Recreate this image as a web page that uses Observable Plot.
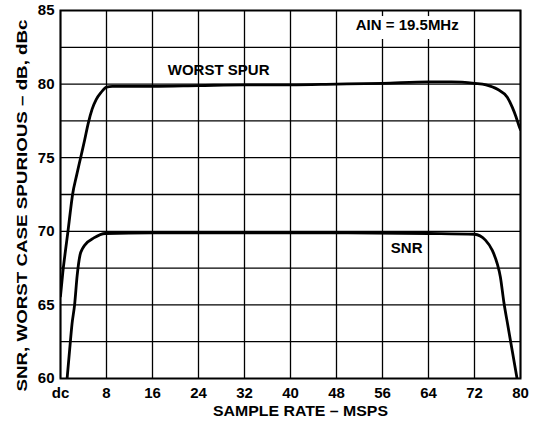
<!DOCTYPE html>
<html>
<head>
<meta charset="utf-8">
<script src="https://cdn.jsdelivr.net/npm/d3@7"></script>
<script src="https://cdn.jsdelivr.net/npm/@observablehq/plot@0.6"></script>
<style>
  html, body { margin: 0; padding: 0; background: white; }
</style>
</head>
<body>
<div id="chart"></div>
<script>
// Worst spur (dBc) vs sample rate (MSPS)
const spurX = [0, 0.4, 0.9, 1.3, 1.7, 2.1, 2.8, 3.5, 4.2, 4.8, 5.5, 6.2, 7.0, 8.0, 9, 16, 24, 32, 40, 48, 56, 64, 68, 72, 74, 76, 77.7, 78.6, 79.2, 79.7, 80];
const spurY = [65.6, 67.2, 68.8, 70.0, 71.3, 72.5, 73.8, 75.0, 76.2, 77.3, 78.3, 78.95, 79.4, 79.8, 79.85, 79.85, 79.9, 79.95, 79.95, 80.0, 80.05, 80.15, 80.15, 80.05, 79.95, 79.65, 79.1, 78.4, 77.8, 77.2, 76.9];
// SNR (dB) vs sample rate (MSPS)
const snrX = [1.15, 1.6, 2.0, 2.45, 2.9, 3.4, 3.8, 4.3, 5.8, 7.8, 16, 32, 48, 64, 72, 73.9, 75.1, 75.95, 76.5, 77.1, 77.8, 78.6, 79.4];
const snrY = [60, 62, 63.7, 65.0, 67.0, 68.4, 68.8, 69.1, 69.55, 69.85, 69.9, 69.9, 69.9, 69.85, 69.8, 69.4, 68.7, 67.8, 66.9, 65.2, 63.6, 61.8, 60.0];

const xTicks = [0, 8, 16, 24, 32, 40, 48, 56, 64, 72, 80];
const xTickLabels = ["dc", "8", "16", "24", "32", "40", "48", "56", "64", "72", "80"];
const yTicks = [60, 65, 70, 75, 80, 85];
const yGrid = [62.5, 65, 67.5, 70, 72.5, 75, 77.5, 80, 82.5];

const xLabel = "SAMPLE RATE – MSPS";
const yLabel = "SNR, WORST CASE SPURIOUS – dB, dBc";

const labels = [
  {x: 27.5, y: 80.92, text: "WORST SPUR"},
  {x: 60.2, y: 68.85, text: "SNR"},
  {x: 60.3, y: 83.98, text: "AIN = 19.5MHz"}
];
const ainBox = [{x1: 50.4, x2: 70.4, y1: 83.03, y2: 84.59}];

const spur = spurX.map((x, i) => ({x, y: spurY[i]}));
const snr = snrX.map((x, i) => ({x, y: snrY[i]}));

const chart = Plot.plot({
  width: 537,
  height: 421,
  marginLeft: 60,
  marginRight: 17,
  marginTop: 10,
  marginBottom: 43,
  style: {fontFamily: "'Liberation Sans', Arial, sans-serif", fontWeight: "bold", fontSize: "15px", background: "white", color: "black"},
  x: {domain: [0, 80]},
  y: {domain: [60, 85]},
  marks: [
    Plot.gridX(xTicks, {stroke: "black", strokeOpacity: 1, strokeWidth: 1.3}),
    Plot.gridY(yGrid, {stroke: "black", strokeOpacity: 1, strokeWidth: 1.3}),
    Plot.rect(ainBox, {x1: "x1", x2: "x2", y1: "y1", y2: "y2", fill: "white"}),
    Plot.line(spur, {x: "x", y: "y", curve: "monotone-x", stroke: "black", strokeWidth: 2.8, clip: true}),
    Plot.line(snr, {x: "x", y: "y", curve: "monotone-x", stroke: "black", strokeWidth: 2.8, clip: true}),
    Plot.frame({stroke: "black", strokeWidth: 2}),
    Plot.axisX(xTicks, {tickSize: 0, tickPadding: 9, tickFormat: (d) => xTickLabels[xTicks.indexOf(d)], label: null}),
    Plot.axisY(yTicks, {tickSize: 0, tickPadding: 6, label: null}),
    Plot.text(labels, {x: "x", y: "y", text: "text", fill: "black"}),
    Plot.text([xLabel], {frameAnchor: "bottom", lineAnchor: "middle", textAnchor: "middle", dy: 33, dx: 10, fill: "black"}),
    Plot.text([yLabel], {frameAnchor: "left", rotate: -90, lineAnchor: "middle", textAnchor: "middle", dx: -38, dy: 11, fill: "black"})
  ]
});
document.getElementById("chart").append(chart);

// Stretch axis titles to the widths seen in the reference
d3.select(chart).selectAll("text").each(function() {
  const t = this.textContent;
  if (t === yLabel) d3.select(this).attr("textLength", 372).attr("lengthAdjust", "spacingAndGlyphs");
  if (t === xLabel) d3.select(this).attr("textLength", 175).attr("lengthAdjust", "spacingAndGlyphs");
});
</script>
</body>
</html>
